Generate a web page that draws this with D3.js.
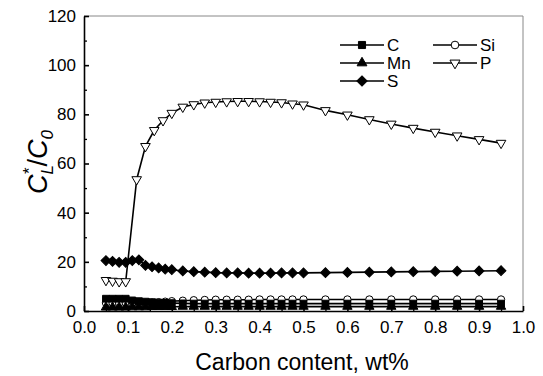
<!DOCTYPE html>
<html>
<head>
<meta charset="utf-8">
<script src="https://cdn.jsdelivr.net/npm/d3@7"></script>
<style>
  body { margin: 0; background: #fff; }
  svg { display: block; font-family: Arial, "Liberation Sans", sans-serif; }
</style>
</head>
<body>
<div class="canvas"></div>
<script>
const dims = { width: 543, height: 376 };
const plot = { left: 84, right: 523, top: 16, bottom: 311 };

// carbon content grid shared by C, Mn, Si, S
const carbon = [0.05, 0.065, 0.08, 0.095, 0.11, 0.125, 0.14, 0.155, 0.17, 0.185, 0.2,
  0.225, 0.25, 0.275, 0.3, 0.325, 0.35, 0.375, 0.4, 0.425, 0.45, 0.475, 0.5,
  0.55, 0.6, 0.65, 0.7, 0.75, 0.8, 0.85, 0.9, 0.95];
const cC = [5, 5, 5, 5, 4.3, 4, 3.8, 3.6, 3.4, 3.3, 3.2,
  3.1, 3, 3, 3, 3, 3, 3, 3, 3, 3, 3, 3,
  3, 3, 3, 3, 3, 3, 3, 3, 3];
const cMn = [1.5, 1.5, 1.5, 1.5, 1.6, 1.6, 1.6, 1.7, 1.7, 1.7, 1.7,
  1.8, 1.8, 1.8, 1.8, 1.8, 1.8, 1.8, 1.8, 1.8, 1.8, 1.8, 1.8,
  1.8, 1.8, 1.8, 1.8, 1.8, 1.8, 1.8, 1.8, 1.8];
const cSi = [3.3, 3.3, 3.3, 3.3, 3, 3, 3.2, 3.4, 3.6, 3.8, 4,
  4.2, 4.4, 4.5, 4.6, 4.6, 4.6, 4.6, 4.7, 4.7, 4.7, 4.7, 4.7,
  4.7, 4.7, 4.7, 4.7, 4.7, 4.7, 4.7, 4.7, 4.7];
const cS = [20.5, 20.2, 19.8, 19.8, 20.5, 20.8, 18.6, 18, 17.5, 17, 16.8,
  16.3, 16, 15.8, 15.6, 15.5, 15.5, 15.4, 15.4, 15.4, 15.5, 15.5, 15.5,
  15.6, 15.7, 15.8, 15.9, 16, 16.1, 16.2, 16.3, 16.4];

// P has its own carbon grid
const carbonP = [0.05, 0.065, 0.08, 0.095, 0.12, 0.14, 0.16, 0.18, 0.2,
  0.225, 0.25, 0.275, 0.3, 0.325, 0.35, 0.375, 0.4, 0.425, 0.45, 0.475, 0.5,
  0.55, 0.6, 0.65, 0.7, 0.75, 0.8, 0.85, 0.9, 0.95];
const cP = [12.5, 12.2, 12, 12, 53.5, 67, 73.5, 77.5, 80.5,
  83, 84, 84.7, 85, 85.2, 85.3, 85.3, 85.2, 85, 84.8, 84.3, 83.9,
  81.6, 79.8, 77.9, 76.1, 74.4, 72.8, 71.3, 69.8, 68.3];

const xTicks = [0, 0.1, 0.2, 0.3, 0.4, 0.5, 0.6, 0.7, 0.8, 0.9, 1.0];
const yTicks = [0, 20, 40, 60, 80, 100, 120];

const svg = d3.select('.canvas')
  .append('svg')
  .attr('width', dims.width)
  .attr('height', dims.height);

const x = d3.scaleLinear().domain([0, 1]).range([plot.left, plot.right]);
const y = d3.scaleLinear().domain([0, 120]).range([plot.bottom, plot.top]);

// frame (top & right lighter)
svg.append('line').attr('x1', plot.left).attr('x2', plot.right).attr('y1', plot.top).attr('y2', plot.top)
  .attr('stroke', '#888').attr('stroke-width', 1);
svg.append('line').attr('x1', plot.right).attr('x2', plot.right).attr('y1', plot.top).attr('y2', plot.bottom)
  .attr('stroke', '#888').attr('stroke-width', 1);

// minor ticks
const xMinor = d3.range(0.05, 1, 0.1);
svg.append('g').attr('transform', `translate(0,${plot.bottom})`)
  .call(d3.axisBottom(x).tickValues(xMinor).tickSize(-3).tickFormat(''))
  .call(g => g.select('.domain').remove())
  .call(g => g.selectAll('line').attr('stroke-width', 1.3));
svg.append('g').attr('transform', `translate(${plot.left},0)`)
  .call(d3.axisLeft(y).tickValues(d3.range(10, 120, 20)).tickSize(-3).tickFormat(''))
  .call(g => g.select('.domain').remove())
  .call(g => g.selectAll('line').attr('stroke-width', 1.3));

const xAxis = d3.axisBottom(x).tickValues(xTicks).tickFormat(d3.format('.1f'))
  .tickSizeInner(-5).tickSizeOuter(0).tickPadding(10);
const yAxis = d3.axisLeft(y).tickValues(yTicks)
  .tickSizeInner(-5).tickSizeOuter(0).tickPadding(8);

svg.append('g').attr('transform', `translate(0,${plot.bottom})`).call(xAxis)
  .call(g => g.selectAll('path, line').attr('stroke-width', 1.6))
  .call(g => g.selectAll('text').attr('font-size', 17).attr('font-family', 'Arial, Liberation Sans').attr('fill', '#000'));
svg.append('g').attr('transform', `translate(${plot.left},0)`).call(yAxis)
  .call(g => g.selectAll('path, line').attr('stroke-width', 1.6))
  .call(g => g.selectAll('text').attr('font-size', 17).attr('font-family', 'Arial, Liberation Sans').attr('fill', '#000'));

// axis titles
svg.append('text')
  .attr('x', 302).attr('y', 370)
  .attr('text-anchor', 'middle')
  .attr('font-size', 23)
  .text('Carbon content, wt%');

const yt = svg.append('text')
  .attr('transform', 'translate(47,162) rotate(-90)')
  .attr('text-anchor', 'middle')
  .attr('font-size', 27);
yt.append('tspan').attr('font-style', 'italic').text('C');
yt.append('tspan').attr('font-style', 'italic').attr('font-size', 17).attr('dy', 6).text('L');
yt.append('tspan').attr('font-size', 17).attr('dx', -9).attr('dy', -18).text('*');
yt.append('tspan').attr('dy', 12).attr('dx', 1).text('/');
yt.append('tspan').attr('font-style', 'italic').text('C');
yt.append('tspan').attr('font-style', 'italic').attr('font-size', 17).attr('dy', 6).text('0');

// series
const series = [
  { name: 'P', xs: carbonP, ys: cP, sym: d3.symbolTriangle, size: 40, rot: 180, fill: '#fff' },
  { name: 'S', xs: carbon, ys: cS, sym: d3.symbolSquare, size: 48, rot: 45, fill: '#000' },
  { name: 'Si', xs: carbon, ys: cSi, sym: d3.symbolCircle, size: 42, rot: 0, fill: '#fff' },
  { name: 'C', xs: carbon, ys: cC, sym: d3.symbolSquare, size: 46, rot: 0, fill: '#000' },
  { name: 'Mn', xs: carbon, ys: cMn, sym: d3.symbolTriangle, size: 38, rot: 0, fill: '#000' }
];

const line = d3.line().x(d => x(d[0])).y(d => y(d[1]));

series.forEach(s => {
  const pts = s.xs.map((v, i) => [v, s.ys[i]]);
  svg.append('path')
    .datum(pts)
    .attr('d', line)
    .attr('fill', 'none')
    .attr('stroke', '#000')
    .attr('stroke-width', 1.6);
});

series.forEach(s => {
  const pts = s.xs.map((v, i) => [v, s.ys[i]]);
  svg.append('g').selectAll('path')
    .data(pts)
    .enter()
    .append('path')
    .attr('d', d3.symbol().type(s.sym).size(s.size))
    .attr('transform', d => `translate(${x(d[0])},${y(d[1])}) rotate(${s.rot})`)
    .attr('fill', s.fill)
    .attr('stroke', '#000')
    .attr('stroke-width', 1);
});

// legend
const legend = [
  { name: 'C', s: series[3], lx: 340, ly: 45 },
  { name: 'Mn', s: series[4], lx: 340, ly: 63 },
  { name: 'S', s: series[1], lx: 340, ly: 81 },
  { name: 'Si', s: series[2], lx: 433, ly: 45 },
  { name: 'P', s: series[0], lx: 433, ly: 63 }
];

const lg = svg.append('g');
legend.forEach(l => {
  lg.append('line')
    .attr('x1', l.lx).attr('x2', l.lx + 44)
    .attr('y1', l.ly).attr('y2', l.ly)
    .attr('stroke', '#000').attr('stroke-width', 1.4);
  lg.append('path')
    .attr('d', d3.symbol().type(l.s.sym).size(l.s.size * 1.1))
    .attr('transform', `translate(${l.lx + 22},${l.ly}) rotate(${l.s.rot})`)
    .attr('fill', l.s.fill)
    .attr('stroke', '#000');
  lg.append('text')
    .attr('x', l.lx + 47).attr('y', l.ly + 6)
    .attr('font-size', 17)
    .text(l.name);
});
</script>
</body>
</html>
